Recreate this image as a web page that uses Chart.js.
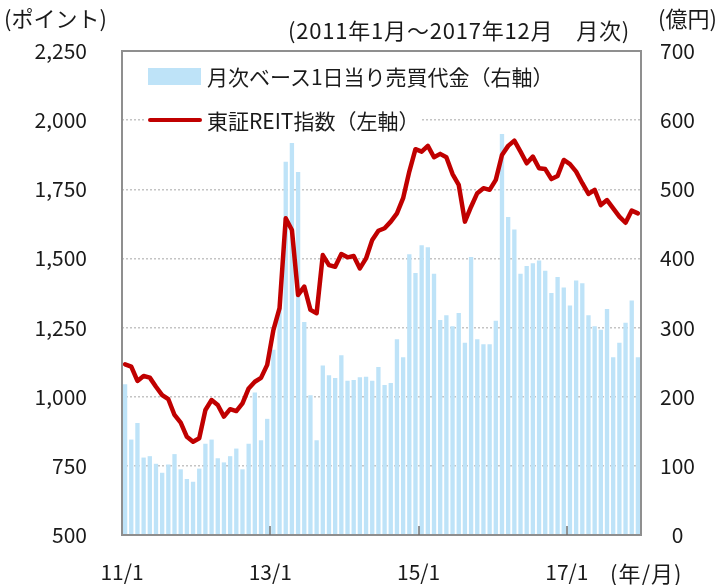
<!DOCTYPE html>
<html>
<head>
<meta charset="utf-8">
<script src="https://cdn.jsdelivr.net/npm/chart.js@4.4.1/dist/chart.umd.min.js"></script>
<style>
  body { margin: 0; background: #fff; }
  #wrap { position: relative; width: 718px; height: 585px; font-family: "Noto Sans CJK JP", "Noto Sans", sans-serif; color: #1a1a1a; }
  #wrap canvas { position: absolute; left: 0; top: 0; }
  .txt { position: absolute; font-size: 22px; line-height: 26px; white-space: nowrap; }
  .legend-row { position: absolute; left: 146px; display: flex; align-items: center; background: #fff; padding-right: 2px; font-size: 21px; line-height: 26px; white-space: nowrap; }
  .sw-bar { width: 53px; height: 17px; background: #bee3f8; margin: 0 6px 0 2px; }
  .sw-line { width: 54px; height: 4px; background: #c00000; border-radius: 2px; margin: 0 5px 0 2px; }
</style>
</head>
<body>
<div id="wrap">
  <canvas id="reitChart" width="718" height="585"></canvas>
  <div class="txt" style="left:4px; top:4px;">(ポイント)</div>
  <div class="txt" style="left:288px; top:16px; letter-spacing:0.8px;">(2011年1月～2017年12月　月次)</div>
  <div class="txt" style="left:658px; top:4px;">(億円)</div>
  <div class="txt" style="left:610px; top:559px; letter-spacing:1px;">(年/月)</div>
  <div class="legend-row" style="top:63px;"><div class="sw-bar"></div>月次ベース1日当り売買代金（右軸）</div>
  <div class="legend-row" style="top:107px;"><div class="sw-line"></div>東証REIT指数（左軸）</div>
</div>
<script>
// 2011/1 - 2017/12, monthly
const tickIndex = [0, 24, 48, 72];
const tickLabels = ["11/1", "13/1", "15/1", "17/1"];

// 月次ベース1日当り売買代金 (億円, right axis)
const volume = [
    218, 138, 162, 112, 114, 103, 90, 102, 117, 95, 81, 77,
    96, 132, 138, 111, 105, 114, 125, 95, 132, 206, 137, 168,
    268, 328, 540, 567, 525, 308, 202, 137, 245, 231, 227, 260,
    223, 224, 228, 229, 223, 243, 217, 220, 283, 257, 406, 379,
    419, 416, 378, 311, 318, 302, 321, 278, 402, 283, 276, 276,
    310, 580, 460, 442, 378, 389, 393, 397, 382, 350, 373, 358,
    332, 368, 364, 318, 302, 297, 327, 257, 278, 307, 339, 257
];

// 東証REIT指数 (ポイント, left axis)
const reitIndex = [
    1117, 1109, 1057, 1075, 1069, 1036, 1006, 991, 934, 906, 855, 837,
    850, 952, 988, 970, 928, 955, 948, 976, 1030, 1054, 1068, 1115,
    1241, 1320, 1645, 1603, 1368, 1398, 1314, 1302, 1512, 1476, 1470, 1516,
    1504, 1509, 1464, 1500, 1567, 1600, 1609, 1633, 1663, 1718, 1814, 1895,
    1886, 1907, 1866, 1878, 1866, 1805, 1766, 1633, 1687, 1736, 1754, 1748,
    1784, 1874, 1907, 1926, 1886, 1844, 1868, 1826, 1823, 1787, 1798, 1856,
    1841, 1814, 1772, 1733, 1748, 1693, 1711, 1681, 1651, 1629, 1673, 1663
];

const fontFamily = '"Noto Sans CJK JP", "Noto Sans", sans-serif';
const textColor = "#1a1a1a";

// plot frame + small tick marks on the bottom edge
const framePlugin = {
    id: "frame",
    afterDatasetsDraw(chart) {
        const { ctx, chartArea: a, scales } = chart;
        ctx.save();
        ctx.strokeStyle = "#8f8f8f";
        ctx.lineWidth = 2;
        ctx.strokeRect(a.left, a.top, a.right - a.left, a.bottom - a.top);
        ctx.strokeStyle = "#707070";
        ctx.lineWidth = 1.5;
        tickIndex.slice(1).forEach(v => {
            const px = Math.round(scales.x.getPixelForValue(v));
            ctx.beginPath();
            ctx.moveTo(px, a.bottom);
            ctx.lineTo(px, a.bottom - 9);
            ctx.stroke();
        });
        ctx.restore();
    }
};

const ctx = document.getElementById("reitChart").getContext("2d");
new Chart(ctx, {
    data: {
        datasets: [
            {
                type: "line",
                label: "東証REIT指数（左軸）",
                data: reitIndex.map((v, i) => ({ x: i + 0.5, y: v })),
                yAxisID: "yL",
                borderColor: "#c00000",
                borderWidth: 4.5,
                pointRadius: 0,
                tension: 0,
                borderJoinStyle: "round",
                borderCapStyle: "round",
                order: 0
            },
            {
                type: "bar",
                label: "月次ベース1日当り売買代金（右軸）",
                data: volume.map((v, i) => ({ x: i + 0.5, y: v })),
                yAxisID: "yR",
                backgroundColor: "#bee3f8",
                barPercentage: 0.7,
                categoryPercentage: 1,
                order: 1
            }
        ]
    },
    options: {
        responsive: false,
        animation: false,
        devicePixelRatio: 1,
        layout: { padding: { top: 51, left: 0, right: 0, bottom: 0 } },
        plugins: { legend: { display: false }, tooltip: { enabled: false } },
        scales: {
            x: {
                type: "linear",
                min: 0,
                max: 84,
                offset: false,
                grid: { display: false, drawTicks: false },
                border: { display: false },
                ticks: {
                    font: { family: fontFamily, size: 21 },
                    color: textColor,
                    padding: 24,
                    maxRotation: 0,
                    autoSkip: false,
                    callback: v => tickLabels[tickIndex.indexOf(v)] || ""
                },
                afterBuildTicks: axis => { axis.ticks = tickIndex.map(v => ({ value: v })); },
                afterFit: axis => { axis.height = 50; }
            },
            yL: {
                position: "left",
                min: 500,
                max: 2250,
                grid: { color: "#c4c4c4", lineWidth: 1.5, drawTicks: false },
                border: { display: false, dash: [2, 2] },
                ticks: {
                    stepSize: 250,
                    padding: 35,
                    font: { family: fontFamily, size: 21 },
                    color: textColor,
                    callback: v => v.toLocaleString("en-US")
                },
                afterFit: axis => { axis.width = 122; }
            },
            yR: {
                position: "right",
                min: 0,
                max: 700,
                grid: { display: false, drawTicks: false },
                border: { display: false },
                ticks: {
                    stepSize: 100,
                    padding: 19,
                    crossAlign: "center",
                    font: { family: fontFamily, size: 21 },
                    color: textColor
                },
                afterFit: axis => { axis.width = 77; }
            }
        }
    },
    plugins: [framePlugin]
});
</script>
</body>
</html>
